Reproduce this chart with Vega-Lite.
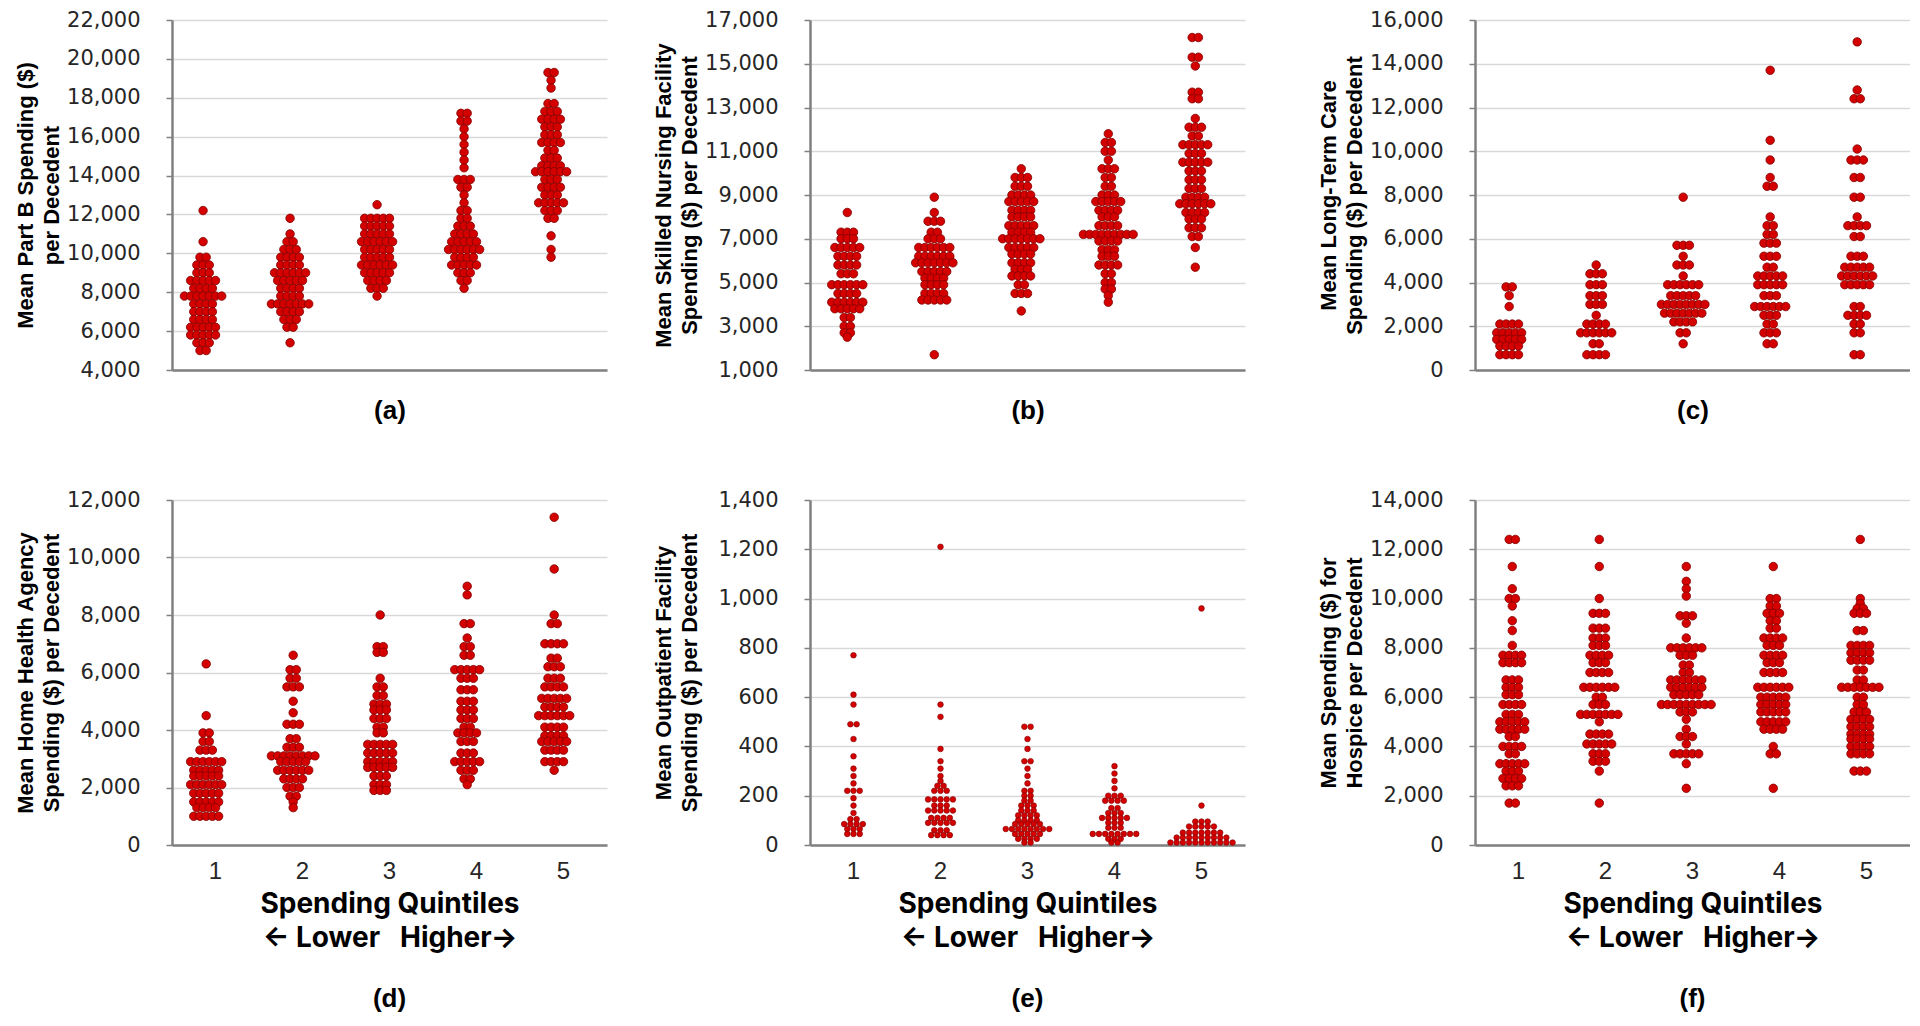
{
"$schema": "https://vega.github.io/schema/vega-lite/v6.json",
"background": "white",
"padding": {"left": 14, "top": 9, "right": 0, "bottom": 0},
"datasets": {
"a": [
{"q":1,"v":12200},{"q":1,"v":10600},{"q":1,"v":9800},{"q":1,"v":9800},{"q":1,"v":9400},{"q":1,"v":9400},{"q":1,"v":9400},{"q":1,"v":9000},{"q":1,"v":9000},{"q":1,"v":9000},
{"q":1,"v":8600},{"q":1,"v":8600},{"q":1,"v":8600},{"q":1,"v":8600},{"q":1,"v":8600},{"q":1,"v":8200},{"q":1,"v":8200},{"q":1,"v":8200},{"q":1,"v":8200},
{"q":1,"v":7800},{"q":1,"v":7800},{"q":1,"v":7800},{"q":1,"v":7800},{"q":1,"v":7800},{"q":1,"v":7800},{"q":1,"v":7800},
{"q":1,"v":7400},{"q":1,"v":7400},{"q":1,"v":7400},{"q":1,"v":7400},{"q":1,"v":7000},{"q":1,"v":7000},{"q":1,"v":7000},{"q":1,"v":7000},
{"q":1,"v":6600},{"q":1,"v":6600},{"q":1,"v":6600},{"q":1,"v":6600},{"q":1,"v":6200},{"q":1,"v":6200},{"q":1,"v":6200},{"q":1,"v":6200},{"q":1,"v":6200},
{"q":1,"v":5800},{"q":1,"v":5800},{"q":1,"v":5800},{"q":1,"v":5800},{"q":1,"v":5800},{"q":1,"v":5400},{"q":1,"v":5400},{"q":1,"v":5400},{"q":1,"v":5000},{"q":1,"v":5000},
{"q":2,"v":11800},{"q":2,"v":11000},{"q":2,"v":10600},{"q":2,"v":10600},{"q":2,"v":10200},{"q":2,"v":10200},{"q":2,"v":10200},
{"q":2,"v":9800},{"q":2,"v":9800},{"q":2,"v":9800},{"q":2,"v":9800},{"q":2,"v":9400},{"q":2,"v":9400},{"q":2,"v":9400},{"q":2,"v":9400},
{"q":2,"v":9000},{"q":2,"v":9000},{"q":2,"v":9000},{"q":2,"v":9000},{"q":2,"v":9000},{"q":2,"v":9000},
{"q":2,"v":8600},{"q":2,"v":8600},{"q":2,"v":8600},{"q":2,"v":8600},{"q":2,"v":8600},{"q":2,"v":8200},{"q":2,"v":8200},{"q":2,"v":8200},{"q":2,"v":8200},
{"q":2,"v":7800},{"q":2,"v":7800},{"q":2,"v":7800},{"q":2,"v":7800},
{"q":2,"v":7400},{"q":2,"v":7400},{"q":2,"v":7400},{"q":2,"v":7400},{"q":2,"v":7400},{"q":2,"v":7400},{"q":2,"v":7400},
{"q":2,"v":7000},{"q":2,"v":7000},{"q":2,"v":7000},{"q":2,"v":7000},{"q":2,"v":6600},{"q":2,"v":6600},{"q":2,"v":6600},{"q":2,"v":6200},{"q":2,"v":6200},{"q":2,"v":5400},
{"q":3,"v":12500},{"q":3,"v":11800},{"q":3,"v":11800},{"q":3,"v":11800},{"q":3,"v":11800},{"q":3,"v":11800},
{"q":3,"v":11400},{"q":3,"v":11400},{"q":3,"v":11400},{"q":3,"v":11400},{"q":3,"v":11400},
{"q":3,"v":11000},{"q":3,"v":11000},{"q":3,"v":11000},{"q":3,"v":11000},{"q":3,"v":11000},
{"q":3,"v":10600},{"q":3,"v":10600},{"q":3,"v":10600},{"q":3,"v":10600},{"q":3,"v":10600},{"q":3,"v":10600},
{"q":3,"v":10200},{"q":3,"v":10200},{"q":3,"v":10200},{"q":3,"v":10200},{"q":3,"v":10200},
{"q":3,"v":9800},{"q":3,"v":9800},{"q":3,"v":9800},{"q":3,"v":9800},{"q":3,"v":9800},
{"q":3,"v":9400},{"q":3,"v":9400},{"q":3,"v":9400},{"q":3,"v":9400},{"q":3,"v":9400},{"q":3,"v":9400},
{"q":3,"v":9000},{"q":3,"v":9000},{"q":3,"v":9000},{"q":3,"v":9000},{"q":3,"v":9000},
{"q":3,"v":8600},{"q":3,"v":8600},{"q":3,"v":8600},{"q":3,"v":8600},{"q":3,"v":8200},{"q":3,"v":8200},{"q":3,"v":8200},{"q":3,"v":7800},
{"q":4,"v":17200},{"q":4,"v":17200},{"q":4,"v":16800},{"q":4,"v":16800},{"q":4,"v":16400},{"q":4,"v":16000},{"q":4,"v":15600},{"q":4,"v":15200},{"q":4,"v":14800},{"q":4,"v":14400},
{"q":4,"v":13800},{"q":4,"v":13800},{"q":4,"v":13800},{"q":4,"v":13400},{"q":4,"v":13400},{"q":4,"v":13000},{"q":4,"v":12600},{"q":4,"v":12200},{"q":4,"v":12200},
{"q":4,"v":11800},{"q":4,"v":11800},{"q":4,"v":11400},{"q":4,"v":11400},{"q":4,"v":11400},{"q":4,"v":11000},{"q":4,"v":11000},{"q":4,"v":11000},{"q":4,"v":11000},
{"q":4,"v":10600},{"q":4,"v":10600},{"q":4,"v":10600},{"q":4,"v":10600},{"q":4,"v":10600},
{"q":4,"v":10200},{"q":4,"v":10200},{"q":4,"v":10200},{"q":4,"v":10200},{"q":4,"v":10200},{"q":4,"v":10200},
{"q":4,"v":9800},{"q":4,"v":9800},{"q":4,"v":9800},{"q":4,"v":9800},{"q":4,"v":9400},{"q":4,"v":9400},{"q":4,"v":9400},{"q":4,"v":9400},{"q":4,"v":9400},
{"q":4,"v":9000},{"q":4,"v":9000},{"q":4,"v":9000},{"q":4,"v":8600},{"q":4,"v":8600},{"q":4,"v":8200},
{"q":5,"v":19300},{"q":5,"v":19300},{"q":5,"v":18900},{"q":5,"v":18500},{"q":5,"v":17700},{"q":5,"v":17700},{"q":5,"v":17300},{"q":5,"v":17300},{"q":5,"v":17300},
{"q":5,"v":16900},{"q":5,"v":16900},{"q":5,"v":16900},{"q":5,"v":16900},{"q":5,"v":16500},{"q":5,"v":16500},{"q":5,"v":16500},{"q":5,"v":16100},{"q":5,"v":16100},{"q":5,"v":16100},
{"q":5,"v":15700},{"q":5,"v":15700},{"q":5,"v":15700},{"q":5,"v":15700},{"q":5,"v":15300},{"q":5,"v":15300},{"q":5,"v":14900},{"q":5,"v":14900},{"q":5,"v":14900},
{"q":5,"v":14500},{"q":5,"v":14500},{"q":5,"v":14500},{"q":5,"v":14500},{"q":5,"v":14200},{"q":5,"v":14200},{"q":5,"v":14200},{"q":5,"v":14200},{"q":5,"v":14200},{"q":5,"v":14200},
{"q":5,"v":13800},{"q":5,"v":13800},{"q":5,"v":13800},{"q":5,"v":13400},{"q":5,"v":13400},{"q":5,"v":13400},{"q":5,"v":13400},{"q":5,"v":13000},{"q":5,"v":13000},{"q":5,"v":13000},
{"q":5,"v":12600},{"q":5,"v":12600},{"q":5,"v":12600},{"q":5,"v":12600},{"q":5,"v":12600},{"q":5,"v":12200},{"q":5,"v":12200},{"q":5,"v":12200},{"q":5,"v":11800},{"q":5,"v":11800},
{"q":5,"v":10900},{"q":5,"v":10200},{"q":5,"v":9800}
],
"b": [
{"q":1,"v":8200},{"q":1,"v":7300},{"q":1,"v":7300},{"q":1,"v":7300},{"q":1,"v":7000},{"q":1,"v":7000},{"q":1,"v":7000},
{"q":1,"v":6600},{"q":1,"v":6600},{"q":1,"v":6600},{"q":1,"v":6600},{"q":1,"v":6600},{"q":1,"v":6200},{"q":1,"v":6200},{"q":1,"v":6200},{"q":1,"v":6200},
{"q":1,"v":5800},{"q":1,"v":5800},{"q":1,"v":5800},{"q":1,"v":5800},{"q":1,"v":5400},{"q":1,"v":5400},{"q":1,"v":5400},
{"q":1,"v":4900},{"q":1,"v":4900},{"q":1,"v":4900},{"q":1,"v":4900},{"q":1,"v":4900},{"q":1,"v":4900},{"q":1,"v":4500},{"q":1,"v":4500},{"q":1,"v":4500},{"q":1,"v":4500},
{"q":1,"v":4100},{"q":1,"v":4100},{"q":1,"v":4100},{"q":1,"v":4100},{"q":1,"v":4100},{"q":1,"v":4100},{"q":1,"v":3800},{"q":1,"v":3800},{"q":1,"v":3800},{"q":1,"v":3800},{"q":1,"v":3800},
{"q":1,"v":3400},{"q":1,"v":3400},{"q":1,"v":3000},{"q":1,"v":3000},{"q":1,"v":2700},{"q":1,"v":2700},{"q":1,"v":2500},
{"q":2,"v":8900},{"q":2,"v":8200},{"q":2,"v":7800},{"q":2,"v":7800},{"q":2,"v":7800},{"q":2,"v":7300},{"q":2,"v":7300},{"q":2,"v":7000},{"q":2,"v":7000},{"q":2,"v":7000},
{"q":2,"v":6600},{"q":2,"v":6600},{"q":2,"v":6600},{"q":2,"v":6600},{"q":2,"v":6600},{"q":2,"v":6600},{"q":2,"v":6200},{"q":2,"v":6200},{"q":2,"v":6200},{"q":2,"v":6200},{"q":2,"v":6200},{"q":2,"v":6200},
{"q":2,"v":5900},{"q":2,"v":5900},{"q":2,"v":5900},{"q":2,"v":5900},{"q":2,"v":5900},{"q":2,"v":5900},{"q":2,"v":5900},
{"q":2,"v":5500},{"q":2,"v":5500},{"q":2,"v":5500},{"q":2,"v":5500},{"q":2,"v":5500},{"q":2,"v":5200},{"q":2,"v":5200},{"q":2,"v":5200},{"q":2,"v":5200},
{"q":2,"v":4900},{"q":2,"v":4900},{"q":2,"v":4900},{"q":2,"v":4900},{"q":2,"v":4500},{"q":2,"v":4500},{"q":2,"v":4500},{"q":2,"v":4500},
{"q":2,"v":4200},{"q":2,"v":4200},{"q":2,"v":4200},{"q":2,"v":4200},{"q":2,"v":4200},{"q":2,"v":1700},
{"q":3,"v":10200},{"q":3,"v":9800},{"q":3,"v":9800},{"q":3,"v":9800},{"q":3,"v":9400},{"q":3,"v":9400},{"q":3,"v":9400},{"q":3,"v":9000},{"q":3,"v":9000},{"q":3,"v":9000},{"q":3,"v":9000},
{"q":3,"v":8700},{"q":3,"v":8700},{"q":3,"v":8700},{"q":3,"v":8700},{"q":3,"v":8700},{"q":3,"v":8300},{"q":3,"v":8300},{"q":3,"v":8300},{"q":3,"v":8300},
{"q":3,"v":8000},{"q":3,"v":8000},{"q":3,"v":8000},{"q":3,"v":8000},{"q":3,"v":7600},{"q":3,"v":7600},{"q":3,"v":7600},{"q":3,"v":7600},{"q":3,"v":7600},
{"q":3,"v":7300},{"q":3,"v":7300},{"q":3,"v":7300},{"q":3,"v":7300},{"q":3,"v":7000},{"q":3,"v":7000},{"q":3,"v":7000},{"q":3,"v":7000},{"q":3,"v":7000},{"q":3,"v":7000},{"q":3,"v":7000},
{"q":3,"v":6600},{"q":3,"v":6600},{"q":3,"v":6600},{"q":3,"v":6600},{"q":3,"v":6600},{"q":3,"v":6300},{"q":3,"v":6300},{"q":3,"v":6300},{"q":3,"v":6300},
{"q":3,"v":5900},{"q":3,"v":5900},{"q":3,"v":5900},{"q":3,"v":5900},{"q":3,"v":5600},{"q":3,"v":5600},{"q":3,"v":5600},{"q":3,"v":5300},{"q":3,"v":5300},{"q":3,"v":5300},{"q":3,"v":5300},
{"q":3,"v":4900},{"q":3,"v":4900},{"q":3,"v":4500},{"q":3,"v":4500},{"q":3,"v":4500},{"q":3,"v":3700},
{"q":4,"v":11800},{"q":4,"v":11400},{"q":4,"v":11400},{"q":4,"v":11000},{"q":4,"v":11000},{"q":4,"v":10600},{"q":4,"v":10200},{"q":4,"v":10200},{"q":4,"v":10200},
{"q":4,"v":9800},{"q":4,"v":9800},{"q":4,"v":9400},{"q":4,"v":9400},{"q":4,"v":9000},{"q":4,"v":9000},{"q":4,"v":9000},
{"q":4,"v":8700},{"q":4,"v":8700},{"q":4,"v":8700},{"q":4,"v":8700},{"q":4,"v":8700},{"q":4,"v":8300},{"q":4,"v":8300},{"q":4,"v":8300},{"q":4,"v":8300},
{"q":4,"v":8000},{"q":4,"v":8000},{"q":4,"v":8000},{"q":4,"v":7600},{"q":4,"v":7600},{"q":4,"v":7600},{"q":4,"v":7600},
{"q":4,"v":7200},{"q":4,"v":7200},{"q":4,"v":7200},{"q":4,"v":7200},{"q":4,"v":7200},{"q":4,"v":7200},{"q":4,"v":7200},{"q":4,"v":7200},{"q":4,"v":7200},
{"q":4,"v":6900},{"q":4,"v":6900},{"q":4,"v":6900},{"q":4,"v":6900},{"q":4,"v":6500},{"q":4,"v":6500},{"q":4,"v":6500},{"q":4,"v":6200},{"q":4,"v":6200},{"q":4,"v":6200},
{"q":4,"v":5800},{"q":4,"v":5800},{"q":4,"v":5800},{"q":4,"v":5800},{"q":4,"v":5400},{"q":4,"v":5400},{"q":4,"v":5000},{"q":4,"v":5000},{"q":4,"v":4700},{"q":4,"v":4700},{"q":4,"v":4400},{"q":4,"v":4100},
{"q":5,"v":16200},{"q":5,"v":16200},{"q":5,"v":15300},{"q":5,"v":15300},{"q":5,"v":14900},{"q":5,"v":13700},{"q":5,"v":13700},{"q":5,"v":13400},{"q":5,"v":13400},{"q":5,"v":12500},
{"q":5,"v":12100},{"q":5,"v":12100},{"q":5,"v":12100},{"q":5,"v":11700},{"q":5,"v":11700},{"q":5,"v":11300},{"q":5,"v":11300},{"q":5,"v":11300},{"q":5,"v":11300},{"q":5,"v":11300},
{"q":5,"v":10900},{"q":5,"v":10900},{"q":5,"v":10900},{"q":5,"v":10500},{"q":5,"v":10500},{"q":5,"v":10500},{"q":5,"v":10500},{"q":5,"v":10500},
{"q":5,"v":10100},{"q":5,"v":10100},{"q":5,"v":10100},{"q":5,"v":9700},{"q":5,"v":9700},{"q":5,"v":9700},{"q":5,"v":9300},{"q":5,"v":9300},{"q":5,"v":9300},
{"q":5,"v":8900},{"q":5,"v":8900},{"q":5,"v":8900},{"q":5,"v":8900},{"q":5,"v":8600},{"q":5,"v":8600},{"q":5,"v":8600},{"q":5,"v":8600},{"q":5,"v":8600},{"q":5,"v":8600},
{"q":5,"v":8200},{"q":5,"v":8200},{"q":5,"v":8200},{"q":5,"v":8200},{"q":5,"v":7900},{"q":5,"v":7900},{"q":5,"v":7900},{"q":5,"v":7500},{"q":5,"v":7500},{"q":5,"v":7500},
{"q":5,"v":7100},{"q":5,"v":7100},{"q":5,"v":6600},{"q":5,"v":5700}
],
"c": [
{"q":1,"v":3800},{"q":1,"v":3800},{"q":1,"v":3400},{"q":1,"v":2900},{"q":1,"v":2100},{"q":1,"v":2100},{"q":1,"v":2100},{"q":1,"v":2100},
{"q":1,"v":1700},{"q":1,"v":1700},{"q":1,"v":1700},{"q":1,"v":1700},{"q":1,"v":1700},{"q":1,"v":1400},{"q":1,"v":1400},{"q":1,"v":1400},{"q":1,"v":1400},{"q":1,"v":1400},
{"q":1,"v":1100},{"q":1,"v":1100},{"q":1,"v":1100},{"q":1,"v":1100},{"q":1,"v":700},{"q":1,"v":700},{"q":1,"v":700},{"q":1,"v":700},
{"q":2,"v":4800},{"q":2,"v":4400},{"q":2,"v":4400},{"q":2,"v":4400},{"q":2,"v":3900},{"q":2,"v":3900},{"q":2,"v":3900},{"q":2,"v":3400},{"q":2,"v":3400},{"q":2,"v":3400},
{"q":2,"v":3000},{"q":2,"v":3000},{"q":2,"v":3000},{"q":2,"v":2500},{"q":2,"v":2100},{"q":2,"v":2100},{"q":2,"v":2100},{"q":2,"v":2100},
{"q":2,"v":1700},{"q":2,"v":1700},{"q":2,"v":1700},{"q":2,"v":1700},{"q":2,"v":1700},{"q":2,"v":1700},{"q":2,"v":1200},{"q":2,"v":1200},{"q":2,"v":700},{"q":2,"v":700},{"q":2,"v":700},{"q":2,"v":700},
{"q":3,"v":7900},{"q":3,"v":5700},{"q":3,"v":5700},{"q":3,"v":5700},{"q":3,"v":5200},{"q":3,"v":4800},{"q":3,"v":4800},{"q":3,"v":4800},{"q":3,"v":4300},
{"q":3,"v":3900},{"q":3,"v":3900},{"q":3,"v":3900},{"q":3,"v":3900},{"q":3,"v":3900},{"q":3,"v":3900},{"q":3,"v":3400},{"q":3,"v":3400},{"q":3,"v":3400},{"q":3,"v":3400},{"q":3,"v":3400},
{"q":3,"v":3000},{"q":3,"v":3000},{"q":3,"v":3000},{"q":3,"v":3000},{"q":3,"v":3000},{"q":3,"v":3000},{"q":3,"v":3000},{"q":3,"v":3000},
{"q":3,"v":2600},{"q":3,"v":2600},{"q":3,"v":2600},{"q":3,"v":2600},{"q":3,"v":2600},{"q":3,"v":2600},{"q":3,"v":2600},
{"q":3,"v":2200},{"q":3,"v":2200},{"q":3,"v":2200},{"q":3,"v":2200},{"q":3,"v":1700},{"q":3,"v":1700},{"q":3,"v":1200},
{"q":4,"v":13700},{"q":4,"v":10500},{"q":4,"v":9600},{"q":4,"v":8800},{"q":4,"v":8400},{"q":4,"v":8400},{"q":4,"v":7000},{"q":4,"v":6600},{"q":4,"v":6600},{"q":4,"v":6200},{"q":4,"v":6200},
{"q":4,"v":5800},{"q":4,"v":5800},{"q":4,"v":5800},{"q":4,"v":5200},{"q":4,"v":5200},{"q":4,"v":5200},{"q":4,"v":4700},{"q":4,"v":4700},
{"q":4,"v":4300},{"q":4,"v":4300},{"q":4,"v":4300},{"q":4,"v":4300},{"q":4,"v":4300},{"q":4,"v":3900},{"q":4,"v":3900},{"q":4,"v":3900},{"q":4,"v":3900},{"q":4,"v":3900},
{"q":4,"v":3400},{"q":4,"v":3400},{"q":4,"v":3400},{"q":4,"v":2900},{"q":4,"v":2900},{"q":4,"v":2900},{"q":4,"v":2900},{"q":4,"v":2900},{"q":4,"v":2900},
{"q":4,"v":2500},{"q":4,"v":2500},{"q":4,"v":2500},{"q":4,"v":2100},{"q":4,"v":2100},{"q":4,"v":1700},{"q":4,"v":1700},{"q":4,"v":1700},{"q":4,"v":1200},{"q":4,"v":1200},
{"q":5,"v":15000},{"q":5,"v":12800},{"q":5,"v":12400},{"q":5,"v":12400},{"q":5,"v":10100},{"q":5,"v":9600},{"q":5,"v":9600},{"q":5,"v":9600},{"q":5,"v":8800},{"q":5,"v":8800},
{"q":5,"v":7900},{"q":5,"v":7900},{"q":5,"v":7000},{"q":5,"v":6600},{"q":5,"v":6600},{"q":5,"v":6600},{"q":5,"v":6600},{"q":5,"v":6100},{"q":5,"v":6100},
{"q":5,"v":5200},{"q":5,"v":5200},{"q":5,"v":5200},{"q":5,"v":4700},{"q":5,"v":4700},{"q":5,"v":4700},{"q":5,"v":4700},{"q":5,"v":4700},
{"q":5,"v":4300},{"q":5,"v":4300},{"q":5,"v":4300},{"q":5,"v":4300},{"q":5,"v":4300},{"q":5,"v":4300},{"q":5,"v":3900},{"q":5,"v":3900},{"q":5,"v":3900},{"q":5,"v":3900},{"q":5,"v":3900},
{"q":5,"v":2900},{"q":5,"v":2900},{"q":5,"v":2500},{"q":5,"v":2500},{"q":5,"v":2500},{"q":5,"v":2500},{"q":5,"v":2100},{"q":5,"v":2100},{"q":5,"v":1700},{"q":5,"v":1700},{"q":5,"v":700},{"q":5,"v":700}
],
"d": [
{"q":1,"v":6300},{"q":1,"v":4500},{"q":1,"v":3900},{"q":1,"v":3900},{"q":1,"v":3600},{"q":1,"v":3600},{"q":1,"v":3300},{"q":1,"v":3300},{"q":1,"v":3300},
{"q":1,"v":2900},{"q":1,"v":2900},{"q":1,"v":2900},{"q":1,"v":2900},{"q":1,"v":2900},{"q":1,"v":2900},{"q":1,"v":2600},{"q":1,"v":2600},{"q":1,"v":2600},{"q":1,"v":2600},{"q":1,"v":2600},
{"q":1,"v":2400},{"q":1,"v":2400},{"q":1,"v":2400},{"q":1,"v":2400},{"q":1,"v":2400},{"q":1,"v":2100},{"q":1,"v":2100},{"q":1,"v":2100},{"q":1,"v":2100},{"q":1,"v":2100},{"q":1,"v":2100},
{"q":1,"v":1800},{"q":1,"v":1800},{"q":1,"v":1800},{"q":1,"v":1800},{"q":1,"v":1800},{"q":1,"v":1500},{"q":1,"v":1500},{"q":1,"v":1500},{"q":1,"v":1500},{"q":1,"v":1500},
{"q":1,"v":1300},{"q":1,"v":1300},{"q":1,"v":1300},{"q":1,"v":1300},{"q":1,"v":1000},{"q":1,"v":1000},{"q":1,"v":1000},{"q":1,"v":1000},{"q":1,"v":1000},
{"q":2,"v":6600},{"q":2,"v":6100},{"q":2,"v":6100},{"q":2,"v":5800},{"q":2,"v":5800},{"q":2,"v":5500},{"q":2,"v":5500},{"q":2,"v":5500},{"q":2,"v":5000},{"q":2,"v":4600},
{"q":2,"v":4200},{"q":2,"v":4200},{"q":2,"v":4200},{"q":2,"v":3700},{"q":2,"v":3700},{"q":2,"v":3400},{"q":2,"v":3400},{"q":2,"v":3400},
{"q":2,"v":3100},{"q":2,"v":3100},{"q":2,"v":3100},{"q":2,"v":3100},{"q":2,"v":3100},{"q":2,"v":3100},{"q":2,"v":3100},{"q":2,"v":3100},
{"q":2,"v":2900},{"q":2,"v":2900},{"q":2,"v":2900},{"q":2,"v":2900},{"q":2,"v":2900},{"q":2,"v":2600},{"q":2,"v":2600},{"q":2,"v":2600},{"q":2,"v":2600},{"q":2,"v":2600},{"q":2,"v":2600},
{"q":2,"v":2300},{"q":2,"v":2300},{"q":2,"v":2300},{"q":2,"v":2300},{"q":2,"v":2000},{"q":2,"v":2000},{"q":2,"v":2000},{"q":2,"v":1700},{"q":2,"v":1700},{"q":2,"v":1500},{"q":2,"v":1300},
{"q":3,"v":8000},{"q":3,"v":6900},{"q":3,"v":6900},{"q":3,"v":6700},{"q":3,"v":6700},{"q":3,"v":5800},{"q":3,"v":5500},{"q":3,"v":5500},{"q":3,"v":5200},{"q":3,"v":5200},
{"q":3,"v":4900},{"q":3,"v":4900},{"q":3,"v":4900},{"q":3,"v":4700},{"q":3,"v":4700},{"q":3,"v":4700},{"q":3,"v":4400},{"q":3,"v":4400},{"q":3,"v":4400},{"q":3,"v":4100},{"q":3,"v":4100},{"q":3,"v":3900},{"q":3,"v":3900},
{"q":3,"v":3500},{"q":3,"v":3500},{"q":3,"v":3500},{"q":3,"v":3500},{"q":3,"v":3500},{"q":3,"v":3200},{"q":3,"v":3200},{"q":3,"v":3200},{"q":3,"v":3200},{"q":3,"v":3200},
{"q":3,"v":2900},{"q":3,"v":2900},{"q":3,"v":2900},{"q":3,"v":2900},{"q":3,"v":2900},{"q":3,"v":2700},{"q":3,"v":2700},{"q":3,"v":2700},{"q":3,"v":2700},{"q":3,"v":2700},
{"q":3,"v":2400},{"q":3,"v":2400},{"q":3,"v":2400},{"q":3,"v":2100},{"q":3,"v":2100},{"q":3,"v":2100},{"q":3,"v":1900},{"q":3,"v":1900},{"q":3,"v":1900},
{"q":4,"v":9000},{"q":4,"v":8700},{"q":4,"v":7700},{"q":4,"v":7700},{"q":4,"v":7200},{"q":4,"v":6900},{"q":4,"v":6900},{"q":4,"v":6600},{"q":4,"v":6600},
{"q":4,"v":6100},{"q":4,"v":6100},{"q":4,"v":6100},{"q":4,"v":6100},{"q":4,"v":6100},{"q":4,"v":5800},{"q":4,"v":5800},{"q":4,"v":5800},{"q":4,"v":5400},{"q":4,"v":5400},{"q":4,"v":5400},
{"q":4,"v":5000},{"q":4,"v":5000},{"q":4,"v":5000},{"q":4,"v":4700},{"q":4,"v":4700},{"q":4,"v":4700},{"q":4,"v":4400},{"q":4,"v":4400},{"q":4,"v":4400},{"q":4,"v":4100},{"q":4,"v":4100},
{"q":4,"v":3900},{"q":4,"v":3900},{"q":4,"v":3900},{"q":4,"v":3900},{"q":4,"v":3600},{"q":4,"v":3600},{"q":4,"v":3600},{"q":4,"v":3200},{"q":4,"v":3200},{"q":4,"v":3200},
{"q":4,"v":2900},{"q":4,"v":2900},{"q":4,"v":2900},{"q":4,"v":2900},{"q":4,"v":2900},{"q":4,"v":2600},{"q":4,"v":2600},{"q":4,"v":2600},{"q":4,"v":2300},{"q":4,"v":2300},{"q":4,"v":2100},
{"q":5,"v":11400},{"q":5,"v":9600},{"q":5,"v":8000},{"q":5,"v":7700},{"q":5,"v":7700},{"q":5,"v":7000},{"q":5,"v":7000},{"q":5,"v":7000},{"q":5,"v":7000},{"q":5,"v":6500},{"q":5,"v":6500},
{"q":5,"v":6200},{"q":5,"v":6200},{"q":5,"v":6200},{"q":5,"v":5800},{"q":5,"v":5800},{"q":5,"v":5800},{"q":5,"v":5500},{"q":5,"v":5500},{"q":5,"v":5500},{"q":5,"v":5500},
{"q":5,"v":5100},{"q":5,"v":5100},{"q":5,"v":5100},{"q":5,"v":5100},{"q":5,"v":5100},{"q":5,"v":4800},{"q":5,"v":4800},{"q":5,"v":4800},{"q":5,"v":4800},
{"q":5,"v":4500},{"q":5,"v":4500},{"q":5,"v":4500},{"q":5,"v":4500},{"q":5,"v":4500},{"q":5,"v":4500},{"q":5,"v":4100},{"q":5,"v":4100},{"q":5,"v":4100},{"q":5,"v":4100},
{"q":5,"v":3800},{"q":5,"v":3800},{"q":5,"v":3800},{"q":5,"v":3800},{"q":5,"v":3600},{"q":5,"v":3600},{"q":5,"v":3600},{"q":5,"v":3600},{"q":5,"v":3600},
{"q":5,"v":3300},{"q":5,"v":3300},{"q":5,"v":3300},{"q":5,"v":3300},{"q":5,"v":2900},{"q":5,"v":2900},{"q":5,"v":2900},{"q":5,"v":2900},{"q":5,"v":2600}
],
"e": [
{"q":1,"v":770},{"q":1,"v":610},{"q":1,"v":570},{"q":1,"v":490},{"q":1,"v":490},{"q":1,"v":430},{"q":1,"v":360},{"q":1,"v":310},{"q":1,"v":280},{"q":1,"v":250},
{"q":1,"v":220},{"q":1,"v":220},{"q":1,"v":220},{"q":1,"v":190},{"q":1,"v":160},{"q":1,"v":130},{"q":1,"v":105},{"q":1,"v":105},
{"q":1,"v":85},{"q":1,"v":85},{"q":1,"v":85},{"q":1,"v":85},{"q":1,"v":65},{"q":1,"v":65},{"q":1,"v":65},{"q":1,"v":45},{"q":1,"v":45},{"q":1,"v":45},
{"q":2,"v":1210},{"q":2,"v":570},{"q":2,"v":520},{"q":2,"v":390},{"q":2,"v":340},{"q":2,"v":310},{"q":2,"v":280},{"q":2,"v":260},{"q":2,"v":240},{"q":2,"v":240},
{"q":2,"v":220},{"q":2,"v":220},{"q":2,"v":220},{"q":2,"v":185},{"q":2,"v":185},{"q":2,"v":185},{"q":2,"v":185},{"q":2,"v":185},{"q":2,"v":160},{"q":2,"v":160},{"q":2,"v":160},
{"q":2,"v":140},{"q":2,"v":140},{"q":2,"v":140},{"q":2,"v":140},{"q":2,"v":140},{"q":2,"v":110},{"q":2,"v":110},{"q":2,"v":110},{"q":2,"v":110},
{"q":2,"v":90},{"q":2,"v":90},{"q":2,"v":90},{"q":2,"v":90},{"q":2,"v":90},{"q":2,"v":60},{"q":2,"v":60},{"q":2,"v":60},{"q":2,"v":40},{"q":2,"v":40},{"q":2,"v":40},{"q":2,"v":40},
{"q":3,"v":480},{"q":3,"v":480},{"q":3,"v":430},{"q":3,"v":390},{"q":3,"v":340},{"q":3,"v":340},{"q":3,"v":310},{"q":3,"v":280},{"q":3,"v":250},{"q":3,"v":220},{"q":3,"v":220},
{"q":3,"v":200},{"q":3,"v":200},{"q":3,"v":180},{"q":3,"v":180},{"q":3,"v":160},{"q":3,"v":160},{"q":3,"v":160},{"q":3,"v":140},{"q":3,"v":140},{"q":3,"v":140},
{"q":3,"v":120},{"q":3,"v":120},{"q":3,"v":120},{"q":3,"v":120},{"q":3,"v":100},{"q":3,"v":100},{"q":3,"v":100},{"q":3,"v":100},
{"q":3,"v":85},{"q":3,"v":85},{"q":3,"v":85},{"q":3,"v":85},{"q":3,"v":85},{"q":3,"v":65},{"q":3,"v":65},{"q":3,"v":65},{"q":3,"v":65},{"q":3,"v":65},{"q":3,"v":65},{"q":3,"v":65},{"q":3,"v":65},
{"q":3,"v":45},{"q":3,"v":45},{"q":3,"v":45},{"q":3,"v":45},{"q":3,"v":45},{"q":3,"v":25},{"q":3,"v":25},{"q":3,"v":25},{"q":3,"v":25},{"q":3,"v":10},{"q":3,"v":10},
{"q":4,"v":320},{"q":4,"v":290},{"q":4,"v":260},{"q":4,"v":230},{"q":4,"v":200},{"q":4,"v":200},{"q":4,"v":200},{"q":4,"v":180},{"q":4,"v":180},{"q":4,"v":180},{"q":4,"v":180},
{"q":4,"v":150},{"q":4,"v":150},{"q":4,"v":130},{"q":4,"v":130},{"q":4,"v":130},{"q":4,"v":110},{"q":4,"v":110},{"q":4,"v":110},{"q":4,"v":110},{"q":4,"v":110},
{"q":4,"v":90},{"q":4,"v":90},{"q":4,"v":90},{"q":4,"v":70},{"q":4,"v":70},{"q":4,"v":70},
{"q":4,"v":45},{"q":4,"v":45},{"q":4,"v":45},{"q":4,"v":45},{"q":4,"v":45},{"q":4,"v":45},{"q":4,"v":45},{"q":4,"v":45},{"q":4,"v":25},{"q":4,"v":25},{"q":4,"v":25},{"q":4,"v":10},{"q":4,"v":10},
{"q":5,"v":960},{"q":5,"v":160},{"q":5,"v":95},{"q":5,"v":95},{"q":5,"v":95},{"q":5,"v":75},{"q":5,"v":75},{"q":5,"v":75},{"q":5,"v":75},{"q":5,"v":75},
{"q":5,"v":50},{"q":5,"v":50},{"q":5,"v":50},{"q":5,"v":50},{"q":5,"v":50},{"q":5,"v":50},{"q":5,"v":50},
{"q":5,"v":30},{"q":5,"v":30},{"q":5,"v":30},{"q":5,"v":30},{"q":5,"v":30},{"q":5,"v":30},{"q":5,"v":30},{"q":5,"v":30},{"q":5,"v":30},
{"q":5,"v":10},{"q":5,"v":10},{"q":5,"v":10},{"q":5,"v":10},{"q":5,"v":10},{"q":5,"v":10},{"q":5,"v":10},{"q":5,"v":10},{"q":5,"v":10},{"q":5,"v":10},{"q":5,"v":10}
],
"f": [
{"q":1,"v":12400},{"q":1,"v":12400},{"q":1,"v":11300},{"q":1,"v":10400},{"q":1,"v":10000},{"q":1,"v":10000},{"q":1,"v":9700},{"q":1,"v":9100},{"q":1,"v":8700},{"q":1,"v":8100},
{"q":1,"v":7700},{"q":1,"v":7700},{"q":1,"v":7700},{"q":1,"v":7700},{"q":1,"v":7400},{"q":1,"v":7400},{"q":1,"v":7400},{"q":1,"v":7400},
{"q":1,"v":6700},{"q":1,"v":6700},{"q":1,"v":6700},{"q":1,"v":6400},{"q":1,"v":6400},{"q":1,"v":6400},{"q":1,"v":6100},{"q":1,"v":6100},{"q":1,"v":6100},
{"q":1,"v":5700},{"q":1,"v":5700},{"q":1,"v":5700},{"q":1,"v":5700},{"q":1,"v":5300},{"q":1,"v":5300},{"q":1,"v":5300},
{"q":1,"v":5000},{"q":1,"v":5000},{"q":1,"v":5000},{"q":1,"v":5000},{"q":1,"v":5000},{"q":1,"v":4700},{"q":1,"v":4700},{"q":1,"v":4700},{"q":1,"v":4700},{"q":1,"v":4700},
{"q":1,"v":4400},{"q":1,"v":4400},{"q":1,"v":4000},{"q":1,"v":4000},{"q":1,"v":4000},{"q":1,"v":4000},{"q":1,"v":3700},{"q":1,"v":3700},
{"q":1,"v":3300},{"q":1,"v":3300},{"q":1,"v":3300},{"q":1,"v":3300},{"q":1,"v":3300},{"q":1,"v":3000},{"q":1,"v":3000},{"q":1,"v":3000},
{"q":1,"v":2700},{"q":1,"v":2700},{"q":1,"v":2700},{"q":1,"v":2700},{"q":1,"v":2400},{"q":1,"v":2400},{"q":1,"v":2400},{"q":1,"v":1700},{"q":1,"v":1700},
{"q":2,"v":12400},{"q":2,"v":11300},{"q":2,"v":10000},{"q":2,"v":9400},{"q":2,"v":9400},{"q":2,"v":9400},{"q":2,"v":8800},{"q":2,"v":8800},{"q":2,"v":8800},
{"q":2,"v":8400},{"q":2,"v":8400},{"q":2,"v":8400},{"q":2,"v":8100},{"q":2,"v":8100},{"q":2,"v":8100},{"q":2,"v":7700},{"q":2,"v":7700},{"q":2,"v":7700},{"q":2,"v":7700},
{"q":2,"v":7400},{"q":2,"v":7400},{"q":2,"v":7400},{"q":2,"v":7000},{"q":2,"v":7000},{"q":2,"v":7000},{"q":2,"v":7000},
{"q":2,"v":6400},{"q":2,"v":6400},{"q":2,"v":6400},{"q":2,"v":6400},{"q":2,"v":6400},{"q":2,"v":6400},{"q":2,"v":6000},{"q":2,"v":6000},{"q":2,"v":5700},{"q":2,"v":5700},{"q":2,"v":5700},
{"q":2,"v":5300},{"q":2,"v":5300},{"q":2,"v":5300},{"q":2,"v":5300},{"q":2,"v":5300},{"q":2,"v":5300},{"q":2,"v":5300},{"q":2,"v":5000},
{"q":2,"v":4500},{"q":2,"v":4500},{"q":2,"v":4500},{"q":2,"v":4500},{"q":2,"v":4100},{"q":2,"v":4100},{"q":2,"v":4100},{"q":2,"v":4100},{"q":2,"v":4100},
{"q":2,"v":3700},{"q":2,"v":3700},{"q":2,"v":3700},{"q":2,"v":3400},{"q":2,"v":3400},{"q":2,"v":3400},{"q":2,"v":3000},{"q":2,"v":1700},
{"q":3,"v":11300},{"q":3,"v":10700},{"q":3,"v":10400},{"q":3,"v":10100},{"q":3,"v":9300},{"q":3,"v":9300},{"q":3,"v":9300},{"q":3,"v":9000},{"q":3,"v":8400},
{"q":3,"v":8000},{"q":3,"v":8000},{"q":3,"v":8000},{"q":3,"v":8000},{"q":3,"v":8000},{"q":3,"v":8000},{"q":3,"v":7700},{"q":3,"v":7700},{"q":3,"v":7700},
{"q":3,"v":7300},{"q":3,"v":7300},{"q":3,"v":7000},{"q":3,"v":7000},
{"q":3,"v":6700},{"q":3,"v":6700},{"q":3,"v":6700},{"q":3,"v":6700},{"q":3,"v":6700},{"q":3,"v":6700},{"q":3,"v":6400},{"q":3,"v":6400},{"q":3,"v":6400},{"q":3,"v":6400},{"q":3,"v":6400},{"q":3,"v":6400},
{"q":3,"v":6100},{"q":3,"v":6100},{"q":3,"v":6100},{"q":3,"v":6100},{"q":3,"v":6100},
{"q":3,"v":5700},{"q":3,"v":5700},{"q":3,"v":5700},{"q":3,"v":5700},{"q":3,"v":5700},{"q":3,"v":5700},{"q":3,"v":5700},{"q":3,"v":5700},{"q":3,"v":5700},
{"q":3,"v":5400},{"q":3,"v":5400},{"q":3,"v":5400},{"q":3,"v":5100},{"q":3,"v":4700},{"q":3,"v":4400},{"q":3,"v":4400},{"q":3,"v":4400},{"q":3,"v":4100},
{"q":3,"v":3700},{"q":3,"v":3700},{"q":3,"v":3700},{"q":3,"v":3700},{"q":3,"v":3700},{"q":3,"v":3300},{"q":3,"v":2300},
{"q":4,"v":11300},{"q":4,"v":10000},{"q":4,"v":10000},{"q":4,"v":9700},{"q":4,"v":9700},{"q":4,"v":9400},{"q":4,"v":9400},{"q":4,"v":9400},{"q":4,"v":9100},{"q":4,"v":9100},
{"q":4,"v":8800},{"q":4,"v":8800},{"q":4,"v":8400},{"q":4,"v":8400},{"q":4,"v":8400},{"q":4,"v":8400},{"q":4,"v":8100},{"q":4,"v":8100},{"q":4,"v":8100},
{"q":4,"v":7700},{"q":4,"v":7700},{"q":4,"v":7700},{"q":4,"v":7700},{"q":4,"v":7400},{"q":4,"v":7400},{"q":4,"v":7400},{"q":4,"v":7000},{"q":4,"v":7000},{"q":4,"v":7000},{"q":4,"v":7000},
{"q":4,"v":6400},{"q":4,"v":6400},{"q":4,"v":6400},{"q":4,"v":6400},{"q":4,"v":6400},{"q":4,"v":6400},{"q":4,"v":6000},{"q":4,"v":6000},{"q":4,"v":6000},{"q":4,"v":6000},{"q":4,"v":6000},
{"q":4,"v":5700},{"q":4,"v":5700},{"q":4,"v":5700},{"q":4,"v":5700},{"q":4,"v":5700},{"q":4,"v":5400},{"q":4,"v":5400},{"q":4,"v":5400},{"q":4,"v":5400},{"q":4,"v":5400},
{"q":4,"v":5000},{"q":4,"v":5000},{"q":4,"v":5000},{"q":4,"v":5000},{"q":4,"v":5000},{"q":4,"v":4700},{"q":4,"v":4700},{"q":4,"v":4700},{"q":4,"v":4700},
{"q":4,"v":4000},{"q":4,"v":3700},{"q":4,"v":3700},{"q":4,"v":2300},
{"q":5,"v":12400},{"q":5,"v":10000},{"q":5,"v":9800},{"q":5,"v":9600},{"q":5,"v":9600},{"q":5,"v":9400},{"q":5,"v":9400},{"q":5,"v":9400},{"q":5,"v":8700},{"q":5,"v":8700},
{"q":5,"v":8100},{"q":5,"v":8100},{"q":5,"v":8100},{"q":5,"v":8100},{"q":5,"v":7800},{"q":5,"v":7800},{"q":5,"v":7800},{"q":5,"v":7800},{"q":5,"v":7500},{"q":5,"v":7500},{"q":5,"v":7500},{"q":5,"v":7500},
{"q":5,"v":7100},{"q":5,"v":7100},{"q":5,"v":6700},{"q":5,"v":6700},
{"q":5,"v":6400},{"q":5,"v":6400},{"q":5,"v":6400},{"q":5,"v":6400},{"q":5,"v":6400},{"q":5,"v":6400},{"q":5,"v":6400},{"q":5,"v":6000},{"q":5,"v":6000},{"q":5,"v":5700},{"q":5,"v":5700},
{"q":5,"v":5400},{"q":5,"v":5400},{"q":5,"v":5400},{"q":5,"v":5100},{"q":5,"v":5100},{"q":5,"v":5100},{"q":5,"v":5100},{"q":5,"v":4800},{"q":5,"v":4800},{"q":5,"v":4800},{"q":5,"v":4800},
{"q":5,"v":4500},{"q":5,"v":4500},{"q":5,"v":4500},{"q":5,"v":4500},{"q":5,"v":4300},{"q":5,"v":4300},{"q":5,"v":4300},{"q":5,"v":4300},{"q":5,"v":4000},{"q":5,"v":4000},{"q":5,"v":4000},{"q":5,"v":4000},
{"q":5,"v":3700},{"q":5,"v":3700},{"q":5,"v":3700},{"q":5,"v":3700},{"q":5,"v":3000},{"q":5,"v":3000},{"q":5,"v":3000}
]
},
"spacing": 66,
"vconcat": [
{"spacing": 45, "hconcat": [
{"width": 435, "height": 350, "data": {"name": "a"},
 "transform": [{"window": [{"op": "count", "as": "one"}], "frame": [0, 0]}, {"stack": "one", "groupby": ["q", "v"], "offset": "center", "as": ["s0", "s1"]}],
 "mark": {"type": "point", "shape": "circle", "filled": true, "size": 72, "fill": "#d40000", "stroke": "#800000", "strokeWidth": 0.8, "opacity": 1},
 "encoding": {
  "x": {"field": "q", "type": "ordinal", "scale": {"type": "band", "domain": [1,2,3,4,5], "paddingInner": 0, "paddingOuter": 0}, "axis": {"labels": false, "ticks": false, "title": "(a)", "titleFontSize": 26, "titlePadding": 27, "minExtent": 0, "maxExtent": 0}},
  "xOffset": {"field": "s0", "type": "quantitative", "scale": {"domain": [-1.58, 7.58], "range": [0, 87]}},
  "y": {"field": "v", "type": "quantitative", "scale": {"domain": [4000, 22000], "nice": false, "zero": false}, "axis": {"values": [4000,6000,8000,10000,12000,14000,16000,18000,20000,22000], "title": ["Mean Part B Spending ($)", "per Decedent"]}}
 }},
{"spacing": 72, "hconcat": [
{"width": 435, "height": 350, "data": {"name": "b"},
 "transform": [{"window": [{"op": "count", "as": "one"}], "frame": [0, 0]}, {"stack": "one", "groupby": ["q", "v"], "offset": "center", "as": ["s0", "s1"]}],
 "mark": {"type": "point", "shape": "circle", "filled": true, "size": 72, "fill": "#d40000", "stroke": "#800000", "strokeWidth": 0.8, "opacity": 1},
 "encoding": {
  "x": {"field": "q", "type": "ordinal", "scale": {"type": "band", "domain": [1,2,3,4,5], "paddingInner": 0, "paddingOuter": 0}, "axis": {"labels": false, "ticks": false, "title": "(b)", "titleFontSize": 26, "titlePadding": 27, "minExtent": 0, "maxExtent": 0}},
  "xOffset": {"field": "s0", "type": "quantitative", "scale": {"domain": [-0.58, 8.58], "range": [0, 87]}},
  "y": {"field": "v", "type": "quantitative", "scale": {"domain": [1000, 17000], "nice": false, "zero": false}, "axis": {"values": [1000,3000,5000,7000,9000,11000,13000,15000,17000], "title": ["Mean Skilled Nursing Facility", "Spending ($) per Decedent"]}}
 }},
{"width": 435, "height": 350, "data": {"name": "c"},
 "transform": [{"window": [{"op": "count", "as": "one"}], "frame": [0, 0]}, {"stack": "one", "groupby": ["q", "v"], "offset": "center", "as": ["s0", "s1"]}],
 "mark": {"type": "point", "shape": "circle", "filled": true, "size": 72, "fill": "#d40000", "stroke": "#800000", "strokeWidth": 0.8, "opacity": 1},
 "encoding": {
  "x": {"field": "q", "type": "ordinal", "scale": {"type": "band", "domain": [1,2,3,4,5], "paddingInner": 0, "paddingOuter": 0}, "axis": {"labels": false, "ticks": false, "title": "(c)", "titleFontSize": 26, "titlePadding": 27, "minExtent": 0, "maxExtent": 0}},
  "xOffset": {"field": "s0", "type": "quantitative", "scale": {"domain": [-1.08, 8.08], "range": [0, 87]}},
  "y": {"field": "v", "type": "quantitative", "scale": {"domain": [0, 16000], "nice": false}, "axis": {"values": [0,2000,4000,6000,8000,10000,12000,14000,16000], "title": ["Mean Long-Term Care", "Spending ($) per Decedent"]}}
 }}
]}
]},
{"spacing": 45, "hconcat": [
{"width": 435, "height": 345, "data": {"name": "d"},
 "title": {"text": "(d)", "orient": "bottom", "frame": "group", "anchor": "middle", "offset": 34, "fontSize": 26, "fontWeight": "bold", "font": "Liberation Sans", "color": "#000000"},
 "transform": [{"window": [{"op": "count", "as": "one"}], "frame": [0, 0]}, {"stack": "one", "groupby": ["q", "v"], "offset": "center", "as": ["s0", "s1"]}],
 "mark": {"type": "point", "shape": "circle", "filled": true, "size": 72, "fill": "#d40000", "stroke": "#800000", "strokeWidth": 0.8, "opacity": 1},
 "encoding": {
  "x": {"field": "q", "type": "ordinal", "scale": {"type": "band", "domain": [1,2,3,4,5], "paddingInner": 0, "paddingOuter": 0}, "axis": {"labelAngle": 0, "labelPadding": 14, "labelFontSize": 24, "minExtent": 40, "maxExtent": 40, "titlePadding": 5, "titleFont": "Inter", "titleFontSize": 28, "titleLineHeight": 34, "title": ["Spending Quintiles", "← Lower\u00a0\u00a0\u00a0Higher→"]}},
  "xOffset": {"field": "s0", "type": "quantitative", "scale": {"domain": [-1.08, 8.08], "range": [0, 87]}},
  "y": {"field": "v", "type": "quantitative", "scale": {"domain": [0, 12000], "nice": false}, "axis": {"values": [0,2000,4000,6000,8000,10000,12000], "title": ["Mean Home Health Agency", "Spending ($) per Decedent"]}}
 }},
{"spacing": 72, "hconcat": [
{"width": 435, "height": 345, "data": {"name": "e"},
 "title": {"text": "(e)", "orient": "bottom", "frame": "group", "anchor": "middle", "offset": 34, "fontSize": 26, "fontWeight": "bold", "font": "Liberation Sans", "color": "#000000"},
 "transform": [{"window": [{"op": "count", "as": "one"}], "frame": [0, 0]}, {"stack": "one", "groupby": ["q", "v"], "offset": "center", "as": ["s0", "s1"]}],
 "mark": {"type": "point", "shape": "circle", "filled": true, "size": 32, "fill": "#d40000", "stroke": "#800000", "strokeWidth": 0.6, "opacity": 1},
 "encoding": {
  "x": {"field": "q", "type": "ordinal", "scale": {"type": "band", "domain": [1,2,3,4,5], "paddingInner": 0, "paddingOuter": 0}, "axis": {"labelAngle": 0, "labelPadding": 14, "labelFontSize": 24, "minExtent": 40, "maxExtent": 40, "titlePadding": 5, "titleFont": "Inter", "titleFontSize": 28, "titleLineHeight": 34, "title": ["Spending Quintiles", "← Lower\u00a0\u00a0\u00a0Higher→"]}},
  "xOffset": {"field": "s0", "type": "quantitative", "scale": {"domain": [-2, 12], "range": [0, 87]}},
  "y": {"field": "v", "type": "quantitative", "scale": {"domain": [0, 1400], "nice": false}, "axis": {"values": [0,200,400,600,800,1000,1200,1400], "title": ["Mean Outpatient Facility", "Spending ($) per Decedent"]}}
 }},
{"width": 435, "height": 345, "data": {"name": "f"},
 "title": {"text": "(f)", "orient": "bottom", "frame": "group", "anchor": "middle", "offset": 34, "fontSize": 26, "fontWeight": "bold", "font": "Liberation Sans", "color": "#000000"},
 "transform": [{"window": [{"op": "count", "as": "one"}], "frame": [0, 0]}, {"stack": "one", "groupby": ["q", "v"], "offset": "center", "as": ["s0", "s1"]}],
 "mark": {"type": "point", "shape": "circle", "filled": true, "size": 72, "fill": "#d40000", "stroke": "#800000", "strokeWidth": 0.8, "opacity": 1},
 "encoding": {
  "x": {"field": "q", "type": "ordinal", "scale": {"type": "band", "domain": [1,2,3,4,5], "paddingInner": 0, "paddingOuter": 0}, "axis": {"labelAngle": 0, "labelPadding": 14, "labelFontSize": 24, "minExtent": 40, "maxExtent": 40, "titlePadding": 5, "titleFont": "Inter", "titleFontSize": 28, "titleLineHeight": 34, "title": ["Spending Quintiles", "← Lower\u00a0\u00a0\u00a0Higher→"]}},
  "xOffset": {"field": "s0", "type": "quantitative", "scale": {"domain": [-0.58, 8.58], "range": [0, 87]}},
  "y": {"field": "v", "type": "quantitative", "scale": {"domain": [0, 14000], "nice": false}, "axis": {"values": [0,2000,4000,6000,8000,10000,12000,14000], "title": ["Mean Spending ($) for", "Hospice per Decedent"]}}
 }}
]}
]}
],
"config": {
 "view": {"stroke": null},
 "font": "Liberation Sans",
 "axis": {"labelFont": "DejaVu Sans", "titleFont": "Liberation Sans", "labelFontSize": 21, "labelColor": "#262626", "titleFontSize": 22, "titleFontWeight": "bold", "titleColor": "#000000", "domainColor": "#808080", "domainWidth": 2.5, "tickColor": "#808080", "gridColor": "#d9d9d9", "gridWidth": 1.5, "titleLineHeight": 26},
 "axisY": {"grid": true, "tickSize": 6, "tickWidth": 1.5, "labelPadding": 26, "format": ",.0f", "minExtent": 106, "maxExtent": 106, "titlePadding": 3},
 "axisX": {"grid": false, "ticks": false, "tickSize": 0, "labelFont": "Liberation Sans"}
}
}
